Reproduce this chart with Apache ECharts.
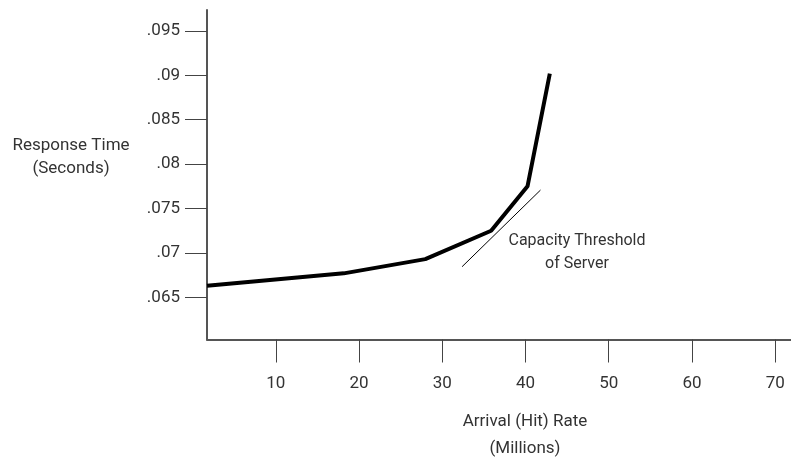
<!DOCTYPE html>
<html>
<head>
<meta charset="utf-8">
<script src="https://cdn.jsdelivr.net/npm/echarts@6/dist/echarts.min.js"></script>
<style>
  html, body { margin: 0; padding: 0; background: #fff; }
  #chart { width: 791px; height: 458px; }
</style>
</head>
<body>
<div id="chart"></div>
<script>
  // response time curve (arrival rate in millions, seconds)
  var arrivalRate = [1.73, 18.16, 27.96, 35.87, 40.24, 42.92];
  var responseTime = [0.0663, 0.0677, 0.0693, 0.0725, 0.0775, 0.0902];
  // capacity threshold tangent line
  var thresholdX = [32.38, 41.8];
  var thresholdY = [0.06845, 0.07708];
  var xTicks = [10, 20, 30, 40, 50, 60, 70];
  var yTicks = [0.065, 0.07, 0.075, 0.08, 0.085, 0.09, 0.095];

  var font = 'Roboto';
  var chart = echarts.init(document.getElementById('chart'));
  chart.setOption({
    animation: false,
    grid: { left: 207, right: 0, top: 10, bottom: 118.5 },
    xAxis: {
      type: 'value',
      min: 1.73,
      max: 71.9,
      splitLine: { show: false },
      axisLine: { lineStyle: { color: '#555', width: 2 } },
      axisTick: { customValues: xTicks, length: 23, lineStyle: { color: '#444', width: 1 } },
      axisLabel: { customValues: xTicks, margin: 36, color: '#333', fontSize: 17, fontFamily: font }
    },
    yAxis: {
      type: 'value',
      min: 0.06025,
      max: 0.09736,
      splitLine: { show: false },
      axisLine: { show: true, lineStyle: { color: '#555', width: 2 } },
      axisTick: { show: true, customValues: yTicks, length: 22, lineStyle: { color: '#444', width: 1 } },
      axisLabel: {
        customValues: yTicks,
        margin: 27,
        color: '#333',
        fontSize: 17,
        fontFamily: font,
        formatter: function (v) { return String(v).replace(/^0\./, '.'); }
      }
    },
    series: [
      {
        type: 'line',
        data: arrivalRate.map(function (x, i) { return [x, responseTime[i]]; }),
        symbol: 'none',
        lineStyle: { color: '#000', width: 4 }
      },
      {
        type: 'line',
        data: thresholdX.map(function (x, i) { return [x, thresholdY[i]]; }),
        symbol: 'none',
        lineStyle: { color: '#000', width: 1 }
      }
    ],
    graphic: [
      {
        type: 'text', x: 71, y: 157,
        style: { text: 'Response Time\n(Seconds)', fill: '#333', font: '17px ' + font,
                 align: 'center', verticalAlign: 'middle', lineHeight: 23 }
      },
      {
        type: 'text', x: 525, y: 435,
        style: { text: 'Arrival (Hit) Rate\n(Millions)', fill: '#333', font: '17px ' + font,
                 align: 'center', verticalAlign: 'middle', lineHeight: 27 }
      },
      {
        type: 'text', x: 577, y: 252,
        style: { text: 'Capacity Threshold\nof Server', fill: '#333', font: '16px ' + font,
                 align: 'center', verticalAlign: 'middle', lineHeight: 23 }
      }
    ]
  });
</script>
</body>
</html>
